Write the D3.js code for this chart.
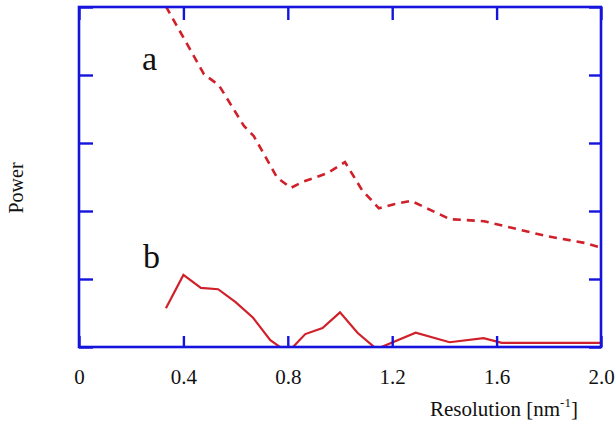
<!DOCTYPE html>
<html>
<head>
<meta charset="utf-8">
<script src="https://cdn.jsdelivr.net/npm/d3@7"></script>
<style>
  body { margin: 0; background: #fff; }
  svg text { font-family: "Liberation Serif", "Times New Roman", serif; fill: #111; }
</style>
</head>
<body>
<svg id="chart" width="616" height="422"></svg>
<script>
// --- data ---
const xTicks = [0, 0.4, 0.8, 1.2, 1.6, 2.0];
const yTicks = [0, 1, 2, 3, 4, 5];

// curve a (dashed)
const aRes   = [0.333, 0.479, 0.536, 0.632, 0.670, 0.759, 0.812, 0.858, 0.954, 1.019, 1.084, 1.149, 1.207, 1.272, 1.421, 1.552, 1.793, 1.939, 2.0];
const aPower = [5.01, 4.01, 3.85, 3.25, 3.10, 2.49, 2.34, 2.43, 2.56, 2.72, 2.31, 2.04, 2.10, 2.15, 1.88, 1.85, 1.63, 1.53, 1.46];

// curve b (solid)
const bRes   = [0.333, 0.4, 0.467, 0.533, 0.6, 0.667, 0.733, 0.8, 0.867, 0.933, 1.0, 1.067, 1.14, 1.29, 1.42, 1.55, 1.62, 2.0];
const bPower = [0.57, 1.06, 0.87, 0.85, 0.66, 0.43, 0.10, -0.08, 0.19, 0.28, 0.51, 0.21, -0.03, 0.21, 0.07, 0.13, 0.06, 0.06];

// --- layout ---
const mLeft = 79, mRight = 601, mTop = 7, mBottom = 347;
const blue = '#1414dc', red = '#d0202a';

const svg = d3.select('#chart');
const x = d3.scaleLinear().domain([0, 2]).range([mLeft, mRight]);
const y = d3.scaleLinear().domain([0, 5]).range([mBottom, mTop]);

svg.append('defs').append('clipPath').attr('id', 'plot')
  .append('rect')
  .attr('x', mLeft).attr('y', mTop)
  .attr('width', mRight - mLeft).attr('height', mBottom - mTop);

// lines
const line = d3.line().x(d => x(d[0])).y(d => y(d[1]));
const g = svg.append('g').attr('clip-path', 'url(#plot)');

g.append('path')
  .datum(d3.zip(aRes, aPower))
  .attr('d', line)
  .attr('fill', 'none')
  .attr('stroke', red)
  .attr('stroke-width', 2.6)
  .attr('stroke-dasharray', '8,6');

g.append('path')
  .datum(d3.zip(bRes, bPower))
  .attr('d', line)
  .attr('fill', 'none')
  .attr('stroke', red)
  .attr('stroke-width', 2.2);

// axes (ticks pointing inward)
const fmt = d => d === 0 ? '0' : d3.format('.1f')(d);

const xb = svg.append('g').attr('transform', `translate(0,${mBottom})`)
  .call(d3.axisBottom(x).tickValues(xTicks).tickSizeInner(-11).tickSizeOuter(0).tickPadding(22).tickFormat(fmt));
svg.append('g').attr('transform', `translate(0,${mTop})`)
  .call(d3.axisTop(x).tickValues(xTicks).tickSizeInner(-13).tickSizeOuter(0).tickFormat(''));
svg.append('g').attr('transform', `translate(${mLeft},0)`)
  .call(d3.axisLeft(y).tickValues(yTicks).tickSizeInner(-14).tickSizeOuter(0).tickFormat(''));
svg.append('g').attr('transform', `translate(${mRight},0)`)
  .call(d3.axisRight(y).tickValues(yTicks).tickSizeInner(-12).tickSizeOuter(0).tickFormat(''));

svg.selectAll('.domain').remove();
svg.selectAll('.tick line').attr('stroke', blue).attr('stroke-width', 2.4);
xb.selectAll('text')
  .attr('font-size', 21)
  .attr('fill', '#111');

// frame
svg.append('rect')
  .attr('x', mLeft).attr('y', mTop)
  .attr('width', mRight - mLeft).attr('height', mBottom - mTop)
  .attr('fill', 'none')
  .attr('stroke', blue)
  .attr('stroke-width', 2.6);

// labels
svg.append('text').attr('x', 142).attr('y', 70).attr('font-size', 34).text('a');
svg.append('text').attr('x', 143).attr('y', 268).attr('font-size', 34).text('b');

svg.append('text')
  .attr('transform', 'translate(23,188) rotate(-90)')
  .attr('text-anchor', 'middle')
  .attr('font-size', 20)
  .text('Power');

const xt = svg.append('text').attr('x', 430).attr('y', 416).attr('font-size', 21);
xt.append('tspan').text('Resolution [nm');
xt.append('tspan').attr('font-size', 13).attr('dy', -9).text('-1');
xt.append('tspan').attr('dy', 9).text(']');
</script>
</body>
</html>
